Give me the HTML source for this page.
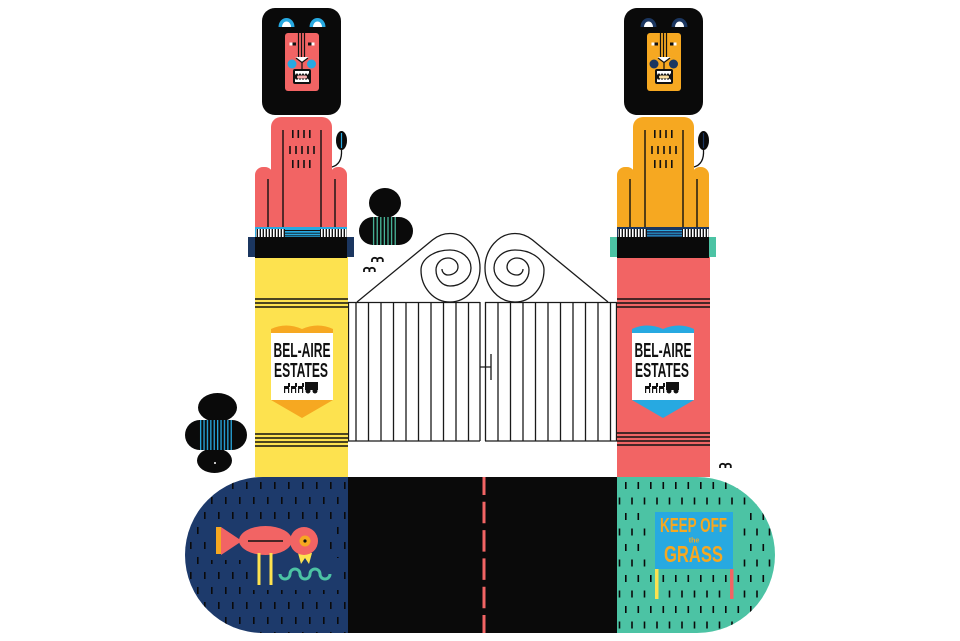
<!DOCTYPE html>
<html><head><meta charset="utf-8"><style>html,body{margin:0;padding:0;background:#fff}svg{display:block}</style></head>
<body>
<svg width="960" height="641" viewBox="0 0 960 641" xmlns="http://www.w3.org/2000/svg">
<defs>
<pattern id="bw" width="3" height="10" patternUnits="userSpaceOnUse"><rect width="3" height="10" fill="#fff"/><rect x="1.6" width="1.4" height="10" fill="#111"/></pattern>
<pattern id="tealstr" x="372" y="0" width="3.6" height="40" patternUnits="userSpaceOnUse"><rect width="3.6" height="40" fill="#0a0a0a"/><rect x="1" width="1.2" height="40" fill="#4cc3a4"/></pattern>
<pattern id="bluestr" x="199" y="0" width="3.4" height="40" patternUnits="userSpaceOnUse"><rect width="3.4" height="40" fill="#0a0a0a"/><rect x="1" width="1.3" height="40" fill="#27a9e1"/></pattern>
<pattern id="dashB" x="218" y="482" width="14" height="30" patternUnits="userSpaceOnUse"><rect x="0" y="0" width="1.6" height="7" fill="#0a0a0a"/><rect x="7" y="15" width="1.6" height="7" fill="#0a0a0a"/></pattern>
<pattern id="dashT" x="625" y="482" width="12.5" height="31" patternUnits="userSpaceOnUse"><rect x="0" y="0" width="1.6" height="7" fill="#0a0a0a"/><rect x="6.2" y="15.5" width="1.6" height="7" fill="#0a0a0a"/></pattern>
</defs>

<rect width="960" height="641" fill="#fff"/>

<!-- ===== Bottom ground ===== -->
<path d="M348,477 L263,477 A78,78 0 0 0 263,633 L348,633 Z" fill="#1d3a6b"/>
<path d="M348,477 L263,477 A78,78 0 0 0 263,633 L348,633 Z" fill="url(#dashB)"/>
<path d="M617,477 L697,477 A78,78 0 0 1 697,633 L617,633 Z" fill="#4cc3a4"/>
<path d="M617,477 L697,477 A78,78 0 0 1 697,633 L617,633 Z" fill="url(#dashT)"/>
<rect x="348" y="477" width="269" height="156" fill="#0a0a0a"/>
<line x1="484" y1="477" x2="484" y2="633" stroke="#f26464" stroke-width="3" stroke-dasharray="21.5 6.8" stroke-dashoffset="3.5"/>

<!-- bird -->
<rect x="210" y="520" width="116" height="40" fill="#1d3a6b"/>
<rect x="252" y="558" width="88" height="32" fill="#1d3a6b"/>
<rect x="216" y="527" width="5" height="27" fill="#f6a821"/>
<polygon points="221,527 221,555 242,541" fill="#f26464"/>
<ellipse cx="265.5" cy="540.5" rx="26.5" ry="14.5" fill="#f26464"/>
<line x1="248" y1="541" x2="283" y2="541" stroke="#111" stroke-width="1.6"/>
<polygon points="298,553 301,564 305,558 309,564 312,553" fill="#fde24f"/>
<circle cx="304" cy="541" r="14" fill="#f26464"/>
<circle cx="305" cy="541" r="5.5" fill="#f6a821"/>
<circle cx="305" cy="541" r="1.6" fill="#111"/>
<rect x="257.5" y="553" width="3" height="32" fill="#fde24f"/>
<rect x="269.5" y="553" width="3" height="32" fill="#fde24f"/>
<path d="M280,574 a5,5 0 0 0 10,0 a5,5 0 0 1 10,0 a5,5 0 0 0 10,0 a5,5 0 0 1 10,0 a5,5 0 0 0 10,0" fill="none" stroke="#4cc3a4" stroke-width="3"/>

<!-- keep off sign -->
<rect x="648" y="506" width="92" height="66" fill="#4cc3a4"/>
<rect x="655" y="512" width="78" height="57" fill="#27a9e1"/>
<rect x="655" y="569" width="3.5" height="30" fill="#fde24f"/>
<rect x="730" y="569" width="3.5" height="30" fill="#f26464"/>
<g fill="#f6a821" font-family="'Liberation Sans', sans-serif" text-anchor="middle" font-weight="bold">
<text x="693.5" y="532" font-size="20" textLength="67" lengthAdjust="spacingAndGlyphs">KEEP OFF</text>
<text x="694" y="542.5" font-size="7">the</text>
<text x="693.5" y="562" font-size="23" textLength="59" lengthAdjust="spacingAndGlyphs">GRASS</text>
</g>

<!-- ===== Left bushes ===== -->
<ellipse cx="217.5" cy="407.5" rx="19.5" ry="14.5" fill="#0a0a0a"/>
<ellipse cx="214.5" cy="460.5" rx="17.5" ry="12.5" fill="#0a0a0a"/>
<rect x="185" y="420" width="62" height="30" rx="15" fill="#0a0a0a"/>
<rect x="199" y="420" width="33" height="30" fill="url(#bluestr)"/>
<circle cx="215" cy="463" r="1" fill="#fff"/>

<!-- bush near left lion -->
<ellipse cx="385" cy="203" rx="16" ry="15" fill="#0a0a0a"/>
<rect x="359" y="217" width="54" height="28" rx="14" fill="#0a0a0a"/>
<rect x="372" y="217" width="25" height="28" fill="url(#tealstr)"/>

<!-- birds -->
<g fill="none" stroke="#111" stroke-width="1.8">
<path d="M372,262 v-2 a2.7,2.2 0 0 1 5.4,0 v2 M377.4,260 a2.7,2.2 0 0 1 5.4,0 v2"/>
<path d="M364,272 v-2 a2.7,2.2 0 0 1 5.4,0 v2 M369.4,270 a2.7,2.2 0 0 1 5.4,0 v2"/>
<path d="M720,468 v-2 a2.7,2.2 0 0 1 5.4,0 v2 M725.4,466 a2.7,2.2 0 0 1 5.4,0 v2"/>
</g>

<!-- ===== Gates ===== -->
<g fill="none" stroke="#1a1a1a" stroke-width="1.3">
<path d="M357,302 L432.6,239.9 A30,34.5 0 0 1 450,233.5 A30,34.5 0 0 1 480,268 A30,34 0 0 1 450,302 A29,32 0 0 1 421,270 A29,20 0 0 1 450,250 A21,18 0 0 1 471,268 A21,18 0 0 1 450,286 A14,16 0 0 1 436,270 A12,12 0 0 1 448,258 A10,9 0 0 1 458,267 A10,8 0 0 1 448,275 A6,6 0 0 1 442,269"/>
<g transform="translate(965,0) scale(-1,1)">
<path d="M357,302 L432.6,239.9 A30,34.5 0 0 1 450,233.5 A30,34.5 0 0 1 480,268 A30,34 0 0 1 450,302 A29,32 0 0 1 421,270 A29,20 0 0 1 450,250 A21,18 0 0 1 471,268 A21,18 0 0 1 450,286 A14,16 0 0 1 436,270 A12,12 0 0 1 448,258 A10,9 0 0 1 458,267 A10,8 0 0 1 448,275 A6,6 0 0 1 442,269"/>
</g>
<!-- left gate -->
<path d="M348,302.5 H480 M348,441 H480"/>
<path d="M348.5,302 V441 M356,302 V441 M368.5,302 V441 M381,302 V441 M393.5,302 V441 M406,302 V441 M418.5,302 V441 M431,302 V441 M443.5,302 V441 M456,302 V441 M468.5,302 V441 M480,302 V441"/>
<!-- right gate -->
<path d="M485,302.5 H617 M485,441 H617"/>
<path d="M485.5,302 V441 M498,302 V441 M510.5,302 V441 M523,302 V441 M535.5,302 V441 M548,302 V441 M560.5,302 V441 M573,302 V441 M585.5,302 V441 M598,302 V441 M610.5,302 V441 M616.5,302 V441"/>
<path d="M480,367 H491 M491,354 V380"/>
</g>

<!-- ===== Left pillar & lion ===== -->
<rect x="255" y="257" width="93" height="220" fill="#fde24f"/>
<g stroke="#111" stroke-width="1.6">
<line x1="255" y1="299" x2="348" y2="299"/><line x1="255" y1="303" x2="348" y2="303"/><line x1="255" y1="307" x2="348" y2="307"/>
<line x1="255" y1="434" x2="348" y2="434"/><line x1="255" y1="438" x2="348" y2="438"/><line x1="255" y1="442" x2="348" y2="442"/><line x1="255" y1="446" x2="348" y2="446"/>
</g>
<!-- sign -->
<path d="M271,334 L271,329 Q286,322 302,329 Q318,322 333,329 L333,334 Z" fill="#f6a821"/>
<rect x="271" y="333" width="62" height="67" fill="#fff"/>
<polygon points="271,400 333,400 302,418" fill="#f6a821"/>
<g fill="#111" font-family="'Liberation Sans Narrow','Liberation Sans', sans-serif" font-weight="bold" text-anchor="middle">
<text x="302" y="357" font-size="20.5" textLength="57" lengthAdjust="spacingAndGlyphs">BEL-AIRE</text>
<text x="301" y="377" font-size="20.5" textLength="54" lengthAdjust="spacingAndGlyphs">ESTATES</text>
</g>
<g fill="#111">
<rect x="284" y="386" width="5" height="3"/><rect x="288" y="383" width="2" height="4"/><rect x="284" y="388" width="1.2" height="5"/><rect x="288" y="388" width="1.2" height="5"/>
<rect x="291" y="386" width="5" height="3"/><rect x="295" y="383" width="2" height="4"/><rect x="291" y="388" width="1.2" height="5"/><rect x="295" y="388" width="1.2" height="5"/>
<rect x="298" y="386" width="5" height="3"/><rect x="302" y="383" width="2" height="4"/><rect x="298" y="388" width="1.2" height="5"/><rect x="302" y="388" width="1.2" height="5"/>
<rect x="305" y="382" width="13" height="8"/><circle cx="308" cy="391" r="2.5"/><circle cx="315" cy="391" r="2.5"/>
</g>

<!-- lion body -->
<rect x="271" y="117" width="61" height="120" rx="10" fill="#f26464"/>
<rect x="255" y="167" width="18" height="70" rx="8" fill="#f26464"/>
<rect x="330" y="167" width="17" height="70" rx="8" fill="#f26464"/>
<g stroke="#111" stroke-width="1.4">
<line x1="268" y1="179" x2="268" y2="228"/><line x1="283" y1="130" x2="283" y2="228"/>
<line x1="321" y1="130" x2="321" y2="228"/><line x1="335" y1="179" x2="335" y2="228"/>
</g>
<g fill="#111">
<rect x="292" y="130" width="1.6" height="8"/><rect x="297.5" y="130" width="1.6" height="8"/><rect x="303.2" y="130" width="1.6" height="8"/><rect x="309" y="130" width="1.6" height="8"/>
<rect x="289.2" y="146" width="1.6" height="8"/><rect x="295.2" y="146" width="1.6" height="8"/><rect x="301.2" y="146" width="1.6" height="8"/><rect x="307.2" y="146" width="1.6" height="8"/><rect x="313.2" y="146" width="1.6" height="8"/>
<rect x="292" y="160" width="1.6" height="8"/><rect x="297.5" y="160" width="1.6" height="8"/><rect x="303.2" y="160" width="1.6" height="8"/><rect x="309" y="160" width="1.6" height="8"/>
</g>
<path d="M332,167 C339,165 342,159 341.5,150" fill="none" stroke="#111" stroke-width="1.3"/>
<ellipse cx="341.5" cy="140.5" rx="5.5" ry="9.5" fill="#0a0a0a"/>
<line x1="341.5" y1="133" x2="341.5" y2="148" stroke="#27a9e1" stroke-width="1.2"/>
<!-- band -->
<rect x="255" y="227" width="92" height="10" fill="#27a9e1"/>
<rect x="256" y="229" width="29" height="8" fill="url(#bw)"/>
<rect x="320" y="229" width="27" height="8" fill="url(#bw)"/>
<g stroke="#111" stroke-width="0.9"><line x1="285" y1="230.5" x2="320" y2="230.5"/><line x1="285" y1="233.2" x2="320" y2="233.2"/><line x1="285" y1="235.8" x2="320" y2="235.8"/></g>
<rect x="248" y="237" width="106" height="20" fill="#1b3660"/>
<rect x="255" y="237" width="92" height="21" fill="#0a0a0a"/>
<!-- head -->
<rect x="262" y="8" width="79" height="107" rx="13" fill="#0a0a0a"/>
<path d="M278.5,27 A8,9 0 0 1 294.5,27 Z" fill="#27a9e1"/>
<path d="M282,27 A4.5,5.5 0 0 1 291,27 Z" fill="#fff"/>
<path d="M309.5,27 A8,9 0 0 1 325.5,27 Z" fill="#27a9e1"/>
<path d="M313,27 A4.5,5.5 0 0 1 322,27 Z" fill="#fff"/>
<rect x="285" y="33" width="34" height="58" rx="3" fill="#f26464"/>
<g stroke="#111" stroke-width="1.2"><line x1="298.5" y1="33" x2="298.5" y2="57"/><line x1="301.5" y1="33" x2="301.5" y2="57"/><line x1="304.5" y1="33" x2="304.5" y2="57"/></g>
<rect x="289.5" y="42.5" width="6.5" height="3" fill="#fff"/><rect x="292.5" y="42.5" width="3.5" height="3" fill="#111"/>
<rect x="308" y="42.5" width="6.5" height="3" fill="#fff"/><rect x="308" y="42.5" width="3.5" height="3" fill="#111"/>
<polygon points="295.5,57 308.5,57 302,63" fill="#fff"/>
<polyline points="296,58 302,62.5 308,58" fill="none" stroke="#111" stroke-width="1.2"/>
<line x1="302" y1="62.5" x2="302" y2="69" stroke="#111" stroke-width="1.2"/>
<circle cx="292" cy="64" r="4.5" fill="#27a9e1"/>
<circle cx="311.5" cy="64" r="4.5" fill="#27a9e1"/>
<rect x="293" y="69" width="18" height="15" rx="2" fill="#111"/>
<polygon points="295,71 309,71 309,73 307.5,75 306,73 304.5,75 303,73 301.5,75 300,73 298.5,75 297,73 295.5,75 295,73" fill="#fff"/>
<rect x="297" y="75.5" width="10" height="3" rx="1.5" fill="#f9b0b0"/>
<polygon points="295,82 309,82 309,80 307.5,78.5 306,80 304.5,78.5 303,80 301.5,78.5 300,80 298.5,78.5 297,80 295.5,78.5 295,80" fill="#fff"/>

<!-- ===== Right pillar & lion ===== -->
<rect x="617" y="257" width="93" height="220" fill="#f26464"/>
<g stroke="#111" stroke-width="1.6">
<line x1="617" y1="299" x2="710" y2="299"/><line x1="617" y1="303" x2="710" y2="303"/><line x1="617" y1="307" x2="710" y2="307"/>
<line x1="617" y1="433" x2="710" y2="433"/><line x1="617" y1="437" x2="710" y2="437"/><line x1="617" y1="441" x2="710" y2="441"/><line x1="617" y1="445" x2="710" y2="445"/>
</g>
<g transform="translate(361,0)">
<path d="M271,334 L271,329 Q286,322 302,329 Q318,322 333,329 L333,334 Z" fill="#27a9e1"/>
<rect x="271" y="333" width="62" height="67" fill="#fff"/>
<polygon points="271,400 333,400 302,418" fill="#27a9e1"/>
<g fill="#111" font-family="'Liberation Sans Narrow','Liberation Sans', sans-serif" font-weight="bold" text-anchor="middle">
<text x="302" y="357" font-size="20.5" textLength="57" lengthAdjust="spacingAndGlyphs">BEL-AIRE</text>
<text x="301" y="377" font-size="20.5" textLength="54" lengthAdjust="spacingAndGlyphs">ESTATES</text>
</g>
<g fill="#111">
<rect x="284" y="386" width="5" height="3"/><rect x="288" y="383" width="2" height="4"/><rect x="284" y="388" width="1.2" height="5"/><rect x="288" y="388" width="1.2" height="5"/>
<rect x="291" y="386" width="5" height="3"/><rect x="295" y="383" width="2" height="4"/><rect x="291" y="388" width="1.2" height="5"/><rect x="295" y="388" width="1.2" height="5"/>
<rect x="298" y="386" width="5" height="3"/><rect x="302" y="383" width="2" height="4"/><rect x="298" y="388" width="1.2" height="5"/><rect x="302" y="388" width="1.2" height="5"/>
<rect x="305" y="382" width="13" height="8"/><circle cx="308" cy="391" r="2.5"/><circle cx="315" cy="391" r="2.5"/>
</g>
</g>

<g transform="translate(362,0)">
<rect x="271" y="117" width="61" height="120" rx="10" fill="#f6a821"/>
<rect x="255" y="167" width="18" height="70" rx="8" fill="#f6a821"/>
<rect x="330" y="167" width="17" height="70" rx="8" fill="#f6a821"/>
<g stroke="#111" stroke-width="1.4">
<line x1="268" y1="179" x2="268" y2="228"/><line x1="283" y1="130" x2="283" y2="228"/>
<line x1="321" y1="130" x2="321" y2="228"/><line x1="335" y1="179" x2="335" y2="228"/>
</g>
<g fill="#111">
<rect x="292" y="130" width="1.6" height="8"/><rect x="297.5" y="130" width="1.6" height="8"/><rect x="303.2" y="130" width="1.6" height="8"/><rect x="309" y="130" width="1.6" height="8"/>
<rect x="289.2" y="146" width="1.6" height="8"/><rect x="295.2" y="146" width="1.6" height="8"/><rect x="301.2" y="146" width="1.6" height="8"/><rect x="307.2" y="146" width="1.6" height="8"/><rect x="313.2" y="146" width="1.6" height="8"/>
<rect x="292" y="160" width="1.6" height="8"/><rect x="297.5" y="160" width="1.6" height="8"/><rect x="303.2" y="160" width="1.6" height="8"/><rect x="309" y="160" width="1.6" height="8"/>
</g>
<path d="M332,167 C339,165 342,159 341.5,150" fill="none" stroke="#111" stroke-width="1.3"/>
<ellipse cx="341.5" cy="140.5" rx="5.5" ry="9.5" fill="#0a0a0a"/>
<line x1="341.5" y1="133" x2="341.5" y2="148" stroke="#1b3660" stroke-width="1.2"/>
<rect x="255" y="227" width="92" height="10" fill="#1b3660"/>
<rect x="256" y="229" width="29" height="8" fill="url(#bw)"/>
<rect x="320" y="229" width="27" height="8" fill="url(#bw)"/>
<g stroke="#27a9e1" stroke-width="0.9"><line x1="285" y1="230.5" x2="320" y2="230.5"/><line x1="285" y1="233.2" x2="320" y2="233.2"/><line x1="285" y1="235.8" x2="320" y2="235.8"/></g>
<rect x="248" y="237" width="106" height="20" fill="#4cc3a4"/>
<rect x="255" y="237" width="92" height="21" fill="#0a0a0a"/>
<rect x="262" y="8" width="79" height="107" rx="13" fill="#0a0a0a"/>
<path d="M278.5,27 A8,9 0 0 1 294.5,27 Z" fill="#1b3660"/>
<path d="M282,27 A4.5,5.5 0 0 1 291,27 Z" fill="#fff"/>
<path d="M309.5,27 A8,9 0 0 1 325.5,27 Z" fill="#1b3660"/>
<path d="M313,27 A4.5,5.5 0 0 1 322,27 Z" fill="#fff"/>
<rect x="285" y="33" width="34" height="58" rx="3" fill="#f6a821"/>
<g stroke="#111" stroke-width="1.2"><line x1="298.5" y1="33" x2="298.5" y2="57"/><line x1="301.5" y1="33" x2="301.5" y2="57"/><line x1="304.5" y1="33" x2="304.5" y2="57"/></g>
<rect x="289.5" y="42.5" width="6.5" height="3" fill="#fff"/><rect x="292.5" y="42.5" width="3.5" height="3" fill="#111"/>
<rect x="308" y="42.5" width="6.5" height="3" fill="#fff"/><rect x="308" y="42.5" width="3.5" height="3" fill="#111"/>
<polygon points="295.5,57 308.5,57 302,63" fill="#fff"/>
<polyline points="296,58 302,62.5 308,58" fill="none" stroke="#111" stroke-width="1.2"/>
<line x1="302" y1="62.5" x2="302" y2="69" stroke="#111" stroke-width="1.2"/>
<circle cx="292" cy="64" r="4.5" fill="#1b3660"/>
<circle cx="311.5" cy="64" r="4.5" fill="#1b3660"/>
<rect x="293" y="69" width="18" height="15" rx="2" fill="#111"/>
<polygon points="295,71 309,71 309,73 307.5,75 306,73 304.5,75 303,73 301.5,75 300,73 298.5,75 297,73 295.5,75 295,73" fill="#fff"/>
<rect x="297" y="75.5" width="10" height="3" rx="1.5" fill="#fde0a0"/>
<polygon points="295,82 309,82 309,80 307.5,78.5 306,80 304.5,78.5 303,80 301.5,78.5 300,80 298.5,78.5 297,80 295.5,78.5 295,80" fill="#fff"/>
</g>

</svg>
</body></html>
